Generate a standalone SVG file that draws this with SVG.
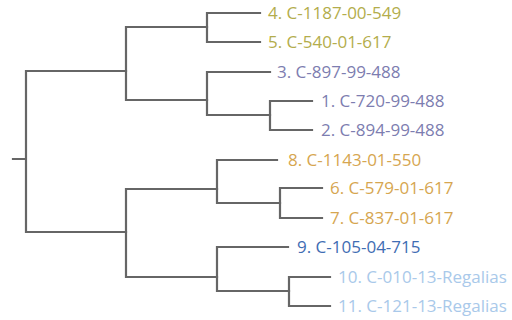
<svg xmlns="http://www.w3.org/2000/svg" width="512" height="320" viewBox="0 0 512 320">
  <style>
    .br { fill: none; stroke: #666666; stroke-width: 2.2; stroke-linecap: square; }
    .lb { font-family: "Open Sans", "Liberation Sans", sans-serif; font-size: 17px; }
    .olive { fill: #b3ad4c; }
    .violet { fill: #7d7db0; }
    .amber { fill: #d6a650; }
    .blue { fill: #3f6db3; }
    .sky { fill: #a9c9ea; }
  </style>
  <rect width="512" height="320" fill="#ffffff"/>
  <g id="connectors">
    <!-- root -->
    <path class="br" d="M13 159H26M26 71V232M26 71H126M26 232H126"/>
    <!-- upper clade -->
    <path class="br" d="M126 27V100M126 27H207M126 100H207"/>
    <path class="br" d="M207 13V42M207 13H260M207 42H260"/>
    <path class="br" d="M207 72V115M207 72H270M207 115H270"/>
    <path class="br" d="M270 101V130M270 101H312M270 130H312"/>
    <!-- lower clade -->
    <path class="br" d="M126 189V277M126 189H217M126 277H217"/>
    <path class="br" d="M217 160V203M217 160H277M217 203H280"/>
    <path class="br" d="M280 188V218M280 188H322M280 218H322"/>
    <path class="br" d="M217 247V291M217 247H288M217 291H289"/>
    <path class="br" d="M289 277V306M289 277H330M289 306H330"/>
  </g>
  <g id="leaf-4"><text class="lb olive" x="268" y="19">4. C-1187-00-549</text></g>
  <g id="leaf-5"><text class="lb olive" x="268" y="48">5. C-540-01-617</text></g>
  <g id="leaf-3"><text class="lb violet" x="277" y="78">3. C-897-99-488</text></g>
  <g id="leaf-1"><text class="lb violet" x="321" y="107">1. C-720-99-488</text></g>
  <g id="leaf-2"><text class="lb violet" x="321" y="136">2. C-894-99-488</text></g>
  <g id="leaf-8"><text class="lb amber" x="288" y="166">8. C-1143-01-550</text></g>
  <g id="leaf-6"><text class="lb amber" x="330" y="194">6. C-579-01-617</text></g>
  <g id="leaf-7"><text class="lb amber" x="330" y="224">7. C-837-01-617</text></g>
  <g id="leaf-9"><text class="lb blue" x="297" y="253">9. C-105-04-715</text></g>
  <g id="leaf-10"><text class="lb sky" x="338" y="283">10. C-010-13-Regalias</text></g>
  <g id="leaf-11"><text class="lb sky" x="338" y="312">11. C-121-13-Regalias</text></g>
</svg>
